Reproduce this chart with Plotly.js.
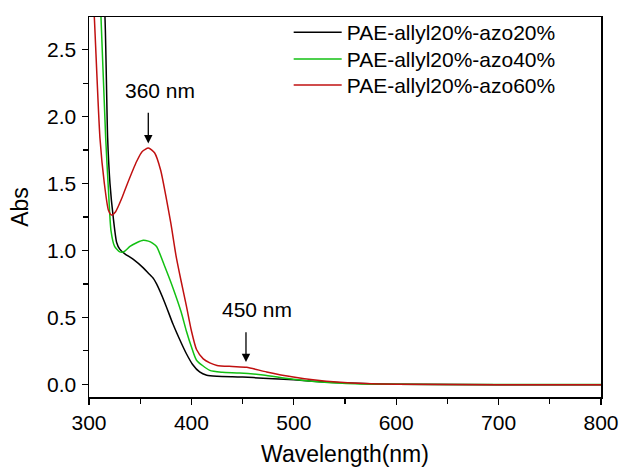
<!DOCTYPE html>
<html>
<head>
<meta charset="utf-8">
<script src="https://cdn.plot.ly/plotly-3.0.1.min.js"></script>
<style>html,body{margin:0;padding:0;background:#fff;}#chart{width:620px;height:467px;}</style>
</head>
<body>
<div id="chart"></div>
<script>
// Series names
const seriesNames = ["PAE-allyl20%-azo20%", "PAE-allyl20%-azo40%", "PAE-allyl20%-azo60%"];

// PAE-allyl20%-azo20% (black)
const wlAzo20 = [312, 315.6, 318.2, 320.5, 323.7, 327, 330, 335, 343, 353, 358, 363, 366, 374, 382, 390, 395, 401, 408, 415, 425, 440, 450, 470, 500, 530, 560, 600, 700, 800];
const absAzo20 = [3.2, 2.745, 1.84, 1.5, 1.245, 1.06, 1.01, 0.975, 0.935, 0.87, 0.83, 0.79, 0.75, 0.61, 0.45, 0.31, 0.23, 0.15, 0.092, 0.068, 0.06, 0.056, 0.054, 0.046, 0.033, 0.018, 0.007, 0.0, -0.003, -0.003];

// PAE-allyl20%-azo40% (green)
const wlAzo40 = [309, 311.7, 316.3, 319, 321.5, 325, 330, 334, 340, 347, 353, 358, 362, 366, 374, 382, 390, 395, 400, 405, 418, 430, 447, 470, 496, 530, 560, 600, 700, 800];
const absAzo40 = [3.2, 2.745, 1.84, 1.45, 1.146, 1.03, 0.99, 0.99, 1.03, 1.06, 1.077, 1.07, 1.055, 1.03, 0.88, 0.72, 0.54, 0.40, 0.28, 0.18, 0.104, 0.09, 0.085, 0.07, 0.042, 0.015, 0.004, 0.0, -0.002, -0.002];

// PAE-allyl20%-azo60% (red)
const wlAzo60 = [302, 305.2, 310.7, 315, 319, 322, 326, 332, 337, 346.6, 352, 358, 364, 370, 375, 380, 385, 390, 395, 400, 405, 411.6, 418, 425, 440, 454, 473.5, 499.5, 523, 542, 570, 600, 700, 800];
const absAzo60 = [3.2, 2.745, 1.84, 1.5, 1.3, 1.265, 1.29, 1.39, 1.49, 1.667, 1.74, 1.766, 1.73, 1.6, 1.41, 1.2, 0.96, 0.77, 0.59, 0.40, 0.26, 0.19, 0.16, 0.141, 0.133, 0.127, 0.092, 0.054, 0.03, 0.017, 0.005, 0.0, -0.003, -0.003];

const colors = ["#000000", "#13c013", "#c01010"];

// Annotation values
const peakLabels = ["360 nm", "450 nm"];
const peakArrowX = [357.9, 453.3];
const peakArrowTip = [1.80, 0.166];
const peakArrowTail = [2.04, 0.40];
const peakTextX = [369, 463.8];
const peakTextY = [2.195, 0.558];

const font = "Liberation Sans, Arial, sans-serif";
const legendIds = ["legend", "legend2", "legend3"];
const legendY = [1.0131, 0.9424, 0.8743];

const traces = [
  {x: wlAzo20, y: absAzo20, name: seriesNames[0], legend: legendIds[0], mode: "lines", line: {color: colors[0], width: 1.5, shape: "spline", smoothing: 0.6}},
  {x: wlAzo40, y: absAzo40, name: seriesNames[1], legend: legendIds[1], mode: "lines", line: {color: colors[1], width: 1.5, shape: "spline", smoothing: 0.6}},
  {x: wlAzo60, y: absAzo60, name: seriesNames[2], legend: legendIds[2], mode: "lines", line: {color: colors[2], width: 1.5, shape: "spline", smoothing: 0.6}}
];

const annotations = [];
for (let i = 0; i < peakLabels.length; i++) {
  annotations.push({x: peakTextX[i], y: peakTextY[i], xref: "x", yref: "y", text: peakLabels[i], showarrow: false, font: {family: font, size: 21, color: "#000"}});
  annotations.push({x: peakArrowX[i], y: peakArrowTip[i], ax: peakArrowX[i], ay: peakArrowTail[i], xref: "x", yref: "y", axref: "x", ayref: "y", text: "", showarrow: true, arrowhead: 2, arrowsize: 1.3, arrowwidth: 1.3, arrowcolor: "#000"});
}

const layout = {
  width: 620, height: 467,
  margin: {l: 89, r: 19, t: 15, b: 70},
  paper_bgcolor: "#fff", plot_bgcolor: "#fff",
  font: {family: font, size: 21, color: "#000"},
  showlegend: true,
  xaxis: {
    range: [300, 800], showgrid: false, zeroline: false,
    showline: true, linecolor: "#000", linewidth: 1.5, mirror: true,
    ticks: "outside", ticklen: 6, tickwidth: 1.3, tickcolor: "#000", dtick: 100, tick0: 300,
    minor: {ticks: "outside", ticklen: 5, tickwidth: 1.3, tickcolor: "#000", dtick: 50, showgrid: false},
    tickfont: {family: font, size: 21},
    title: {text: "Wavelength(nm)", font: {family: font, size: 23}, standoff: 15}
  },
  yaxis: {
    range: [-0.095, 2.745], showgrid: false, zeroline: false,
    showline: true, linecolor: "#000", linewidth: 1.5, mirror: true,
    ticks: "outside", ticklen: 6, tickwidth: 1.3, tickcolor: "#000", dtick: 0.5, tick0: 0,
    tickformat: ".1f", ticklabelstandoff: 1,
    minor: {ticks: "outside", ticklen: 5, tickwidth: 1.3, tickcolor: "#000", dtick: 0.25, showgrid: false},
    tickfont: {family: font, size: 21},
    title: {text: "Abs", font: {family: font, size: 23}, standoff: 12}
  },
  annotations: annotations
};
for (let i = 0; i < legendIds.length; i++) {
  layout[legendIds[i]] = {x: 0.39, xanchor: "left", y: legendY[i], yanchor: "top", itemwidth: 48, bgcolor: "rgba(0,0,0,0)", font: {family: font, size: 21, color: "#000"}, borderwidth: 0};
}

Plotly.newPlot("chart", traces, layout, {displayModeBar: false, staticPlot: true});
</script>
</body>
</html>
